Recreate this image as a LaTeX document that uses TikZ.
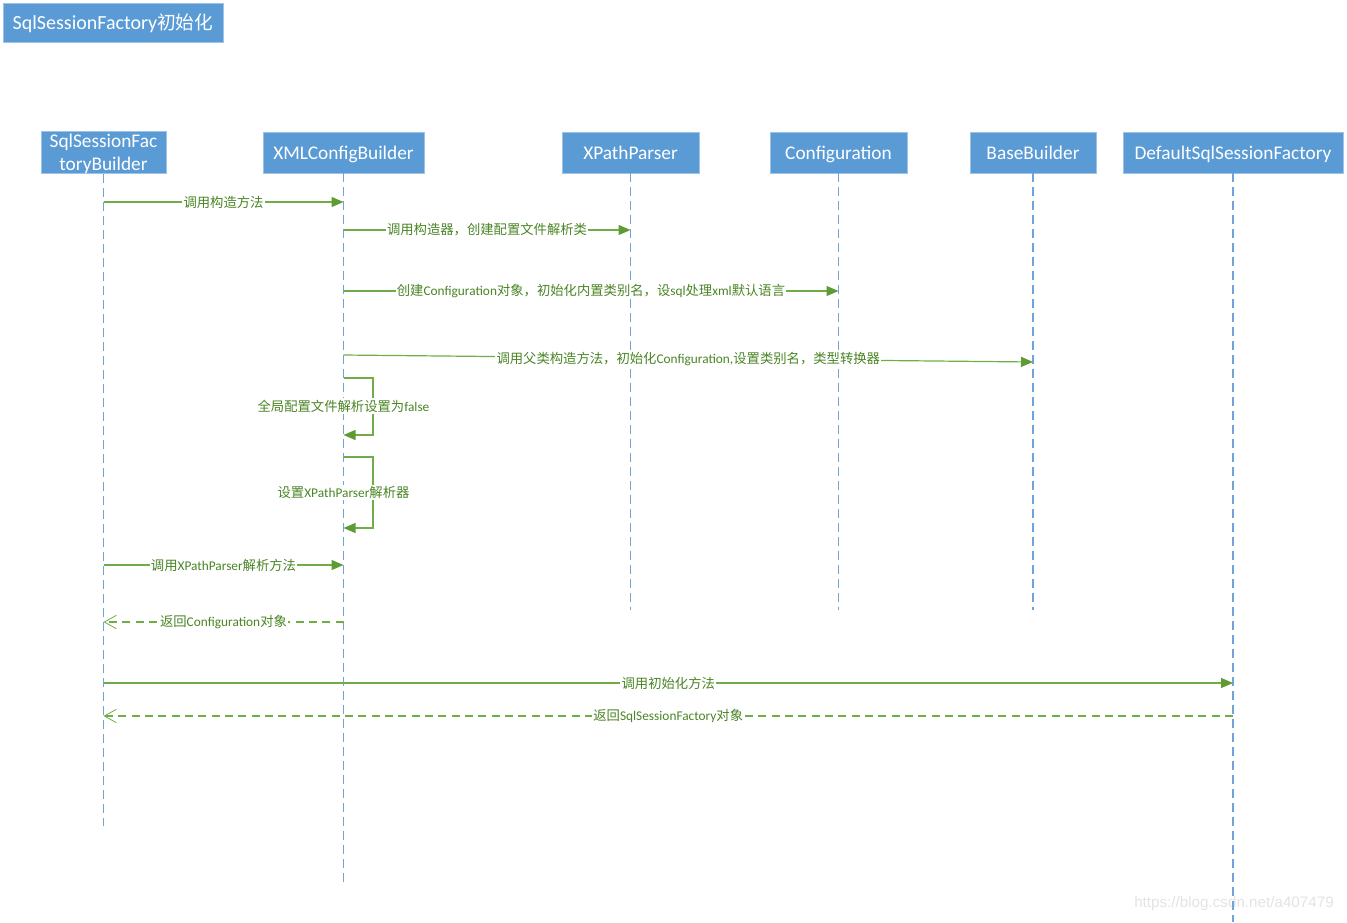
\documentclass[tikz,border=0pt]{standalone}
\usepackage{fontspec}
\setmainfont{Carlito}
\newfontfamily\cjk{Noto Sans CJK SC}
\newfontfamily\wmfont{Liberation Sans}
\usetikzlibrary{arrows.meta}
\definecolor{boxblue}{HTML}{5B9BD5}
\definecolor{boxedge}{HTML}{9DC3E6}
\definecolor{lifeblue}{HTML}{6FA3DA}
\definecolor{msggreen}{HTML}{70AD47}
\definecolor{tipgreen}{HTML}{5E9B35}
\definecolor{txtgreen}{HTML}{4A8526}
\definecolor{wmgrey}{HTML}{E3E3E3}
\tikzset{
  box/.style={fill=boxblue, draw=boxedge, line width=0.6pt, text=white,
    font=\fontsize{14.5}{17}\selectfont, inner sep=0pt, align=center,
    minimum height=30.75pt},
  oneline/.style={text height=13pt, text depth=2.6pt},
  life/.style={draw=lifeblue, line width=0.9pt, dash pattern=on 6.5pt off 4pt},
  msg/.style={draw=msggreen, line width=0.9pt,
    -{Triangle[length=9pt,width=7.5pt,color=tipgreen]}},
  selfmsg/.style={draw=msggreen, line width=0.9pt,
    -{Triangle[length=9pt,width=7.5pt,color=tipgreen]}},
  ret/.style={draw=msggreen, line width=0.8pt, dash pattern=on 6pt off 4pt,
    -{Straight Barb[length=9pt,width=10pt,line width=0.6pt]}},
  lbl/.style={fill=white, text=txtgreen, font=\fontsize{10}{12}\selectfont,
    inner sep=1pt}
}
\begin{document}
\begin{tikzpicture}[x=0.75pt,y=-0.75pt]
\useasboundingbox (0,0) rectangle (1347,922);

% watermark (under lifeline)
\node[text=wmgrey, font=\wmfont\fontsize{11.4}{13}\selectfont, inner sep=0pt] (wm) at (1234,904) {https://blog.csdn.net/a407479};

% title
\node[box, oneline, minimum width=165pt, minimum height=29.25pt, font=\fontsize{15}{17}\selectfont] (title) at (113,22.5)
  {SqlSessionFactory{\cjk\fontsize{14}{15}\selectfont 初始化}};

% participants
\node[box, minimum width=93.75pt, font=\fontsize{14.5}{17.5}\selectfont] (sfb) at (103.5,152.5) {\rule{0pt}{12pt}SqlSessionFac\\toryBuilder};
\node[box, oneline, minimum width=120.75pt] (xml) at (343.5,152.5) {XMLConfigBuilder};
\node[box, oneline, minimum width=102.75pt] (xpp) at (630.5,152.5) {XPathParser};
\node[box, oneline, minimum width=102.75pt] (cfg) at (838.5,152.5) {Configuration};
\node[box, oneline, minimum width=94.5pt] (bb) at (1033,152.5) {BaseBuilder};
\node[box, oneline, minimum width=165pt] (dsf) at (1233,152.5) {DefaultSqlSessionFactory};

% lifeline ends
\coordinate (sfbE) at (103.5,826);
\coordinate (xmlE) at (343.5,885);
\coordinate (xppE) at (630.5,610);
\coordinate (cfgE) at (838.5,610);
\coordinate (bbE) at (1033,610);
\coordinate (dsfE) at (1233,922);

\draw[life] (sfb.south) -- (sfbE);
\draw[life] (xml.south) -- (xmlE);
\draw[life] (xpp.south) -- (xppE);
\draw[life] (cfg.south) -- (cfgE);
\draw[life] (bb.south) -- (bbE);
\draw[life] (dsf.south) -- (dsfE);

% message end points
\coordinate (m1s) at (103.5,202);  \coordinate (m1e) at (343.5,202);
\coordinate (m2s) at (343.5,230);  \coordinate (m2e) at (630.5,230);
\coordinate (m3s) at (343.5,291);  \coordinate (m3e) at (838.5,291);
\coordinate (m4s) at (343.5,355);  \coordinate (m4e) at (1033,362);
\coordinate (l1a) at (343.5,378);  \coordinate (l1b) at (373,378);
\coordinate (l1c) at (373,435);    \coordinate (l1d) at (343.5,435);
\coordinate (l2a) at (343.5,457);  \coordinate (l2b) at (373,457);
\coordinate (l2c) at (373,528);    \coordinate (l2d) at (343.5,528);
\coordinate (m7s) at (103.5,565);  \coordinate (m7e) at (343.5,565);
\coordinate (m8s) at (343.5,622);  \coordinate (m8e) at (103.5,622);
\coordinate (m9s) at (103.5,683);  \coordinate (m9e) at (1233,683);
\coordinate (m10s) at (1233,716);  \coordinate (m10e) at (103.5,716);

% messages
\draw[msg] (m1s) -- node[lbl] (t1) {\cjk 调用构造方法} (m1e);
\draw[msg] (m2s) -- node[lbl] (t2) {\cjk 调用构造器，创建配置文件解析类} (m2e);
\draw[msg] (m3s) -- node[lbl] (t3) {{\cjk 创建}Configuration{\cjk 对象，初始化内置类别名，设}sql{\cjk 处理}xml{\cjk 默认语言}} (m3e);
\draw[msg] (m4s) -- node[lbl] (t4) {{\cjk 调用父类构造方法，初始化}Configuration,{\cjk 设置类别名，类型转换器}} (m4e);

\draw[selfmsg] (l1a) -- (l1b) -- (l1c) -- (l1d);
\node[lbl] (t5) at (343.5,406) {{\cjk 全局配置文件解析设置为}false};
\draw[selfmsg] (l2a) -- (l2b) -- (l2c) -- (l2d);
\node[lbl] (t6) at (343.5,492) {{\cjk 设置}XPathParser{\cjk 解析器}};

\draw[msg] (m7s) -- node[lbl] (t7) {{\cjk 调用}XPathParser{\cjk 解析方法}} (m7e);
\draw[ret] (m8s) -- node[lbl] (t8) {{\cjk 返回}Configuration{\cjk 对象}} (m8e);
\draw[msg] (m9s) -- node[lbl] (t9) {\cjk 调用初始化方法} (m9e);
\draw[ret] (m10s) -- node[lbl] (t10) {{\cjk 返回}SqlSessionFactory{\cjk 对象}} (m10e);
\end{tikzpicture}
\end{document}
